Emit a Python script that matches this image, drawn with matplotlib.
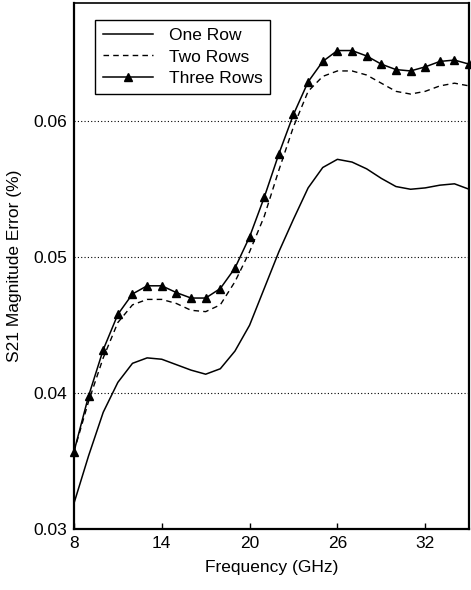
import matplotlib.pyplot as plt

plt.rcParams['font.family'] = ['Liberation Sans', 'DejaVu Sans']

# Frequency points (GHz)
freq = list(range(8, 36))

# S21 magnitude error (%)
one_row = [0.0319, 0.0354, 0.0386, 0.0408, 0.0422, 0.0426, 0.0425, 0.0421,
           0.0417, 0.0414, 0.0418, 0.0431, 0.0450, 0.0477, 0.0504, 0.0528,
           0.0551, 0.0566, 0.0572, 0.0570, 0.0565, 0.0558, 0.0552, 0.0550,
           0.0551, 0.0553, 0.0554, 0.0550]
two_rows = [0.0357, 0.0394, 0.0426, 0.0452, 0.0465, 0.0469, 0.0469, 0.0466,
            0.0461, 0.0460, 0.0465, 0.0482, 0.0504, 0.0530, 0.0564, 0.0596,
            0.0622, 0.0633, 0.0637, 0.0637, 0.0634, 0.0628, 0.0622, 0.0620,
            0.0622, 0.0626, 0.0628, 0.0626]
three_rows = [0.0357, 0.0398, 0.0432, 0.0458, 0.0473, 0.0479, 0.0479, 0.0474,
              0.0470, 0.0470, 0.0477, 0.0492, 0.0515, 0.0544, 0.0576, 0.0605,
              0.0629, 0.0644, 0.0652, 0.0652, 0.0648, 0.0642, 0.0638, 0.0637,
              0.0640, 0.0644, 0.0645, 0.0642]

x_ticks = [8, 14, 20, 26, 32]
y_ticks = [0.03, 0.04, 0.05, 0.06]

fig = plt.figure(figsize=(4.71, 5.90), dpi=100)
ax = fig.add_axes([0.157, 0.103, 0.839, 0.892])

for y in y_ticks[1:]:
    ax.axhline(y, color='black', linestyle=(0, (1, 2)), linewidth=0.8, zorder=1)

ax.plot(freq, one_row, color='black', linewidth=1.1, label='One Row', zorder=3)
ax.plot(freq, two_rows, color='black', linewidth=1.0, linestyle=(0, (4, 3)),
        label='Two Rows', zorder=3)
ax.plot(freq, three_rows, color='black', linewidth=1.1, marker='^', markersize=6,
        label='Three Rows', zorder=4, clip_on=False)

ax.set_xlim(8, 35)
ax.set_ylim(0.03, 0.0687)
ax.set_xticks(x_ticks)
ax.set_yticks(y_ticks)
ax.set_yticklabels(['0.03', '0.04', '0.05', '0.06'])
ax.tick_params(direction='in', length=4, width=1, labelsize=12.5, pad=5)
ax.tick_params(axis='y', length=0)

for side in ['left', 'bottom', 'right']:
    ax.spines[side].set_linewidth(1.6)
ax.spines['top'].set_linewidth(1.2)

ax.set_xlabel('Frequency (GHz)', fontsize=12.5, labelpad=6)
ax.set_ylabel('S21 Magnitude Error (%)', fontsize=12.5, labelpad=8)

leg = ax.legend(loc='upper left', bbox_to_anchor=(0.053, 0.968), borderaxespad=0,
                fontsize=12.5, handlelength=2.9, handletextpad=0.9,
                borderpad=0.45, labelspacing=0.38, fancybox=False,
                framealpha=1, edgecolor='black')
leg.get_frame().set_linewidth(1.0)

fig.savefig('out.png', dpi=100)
